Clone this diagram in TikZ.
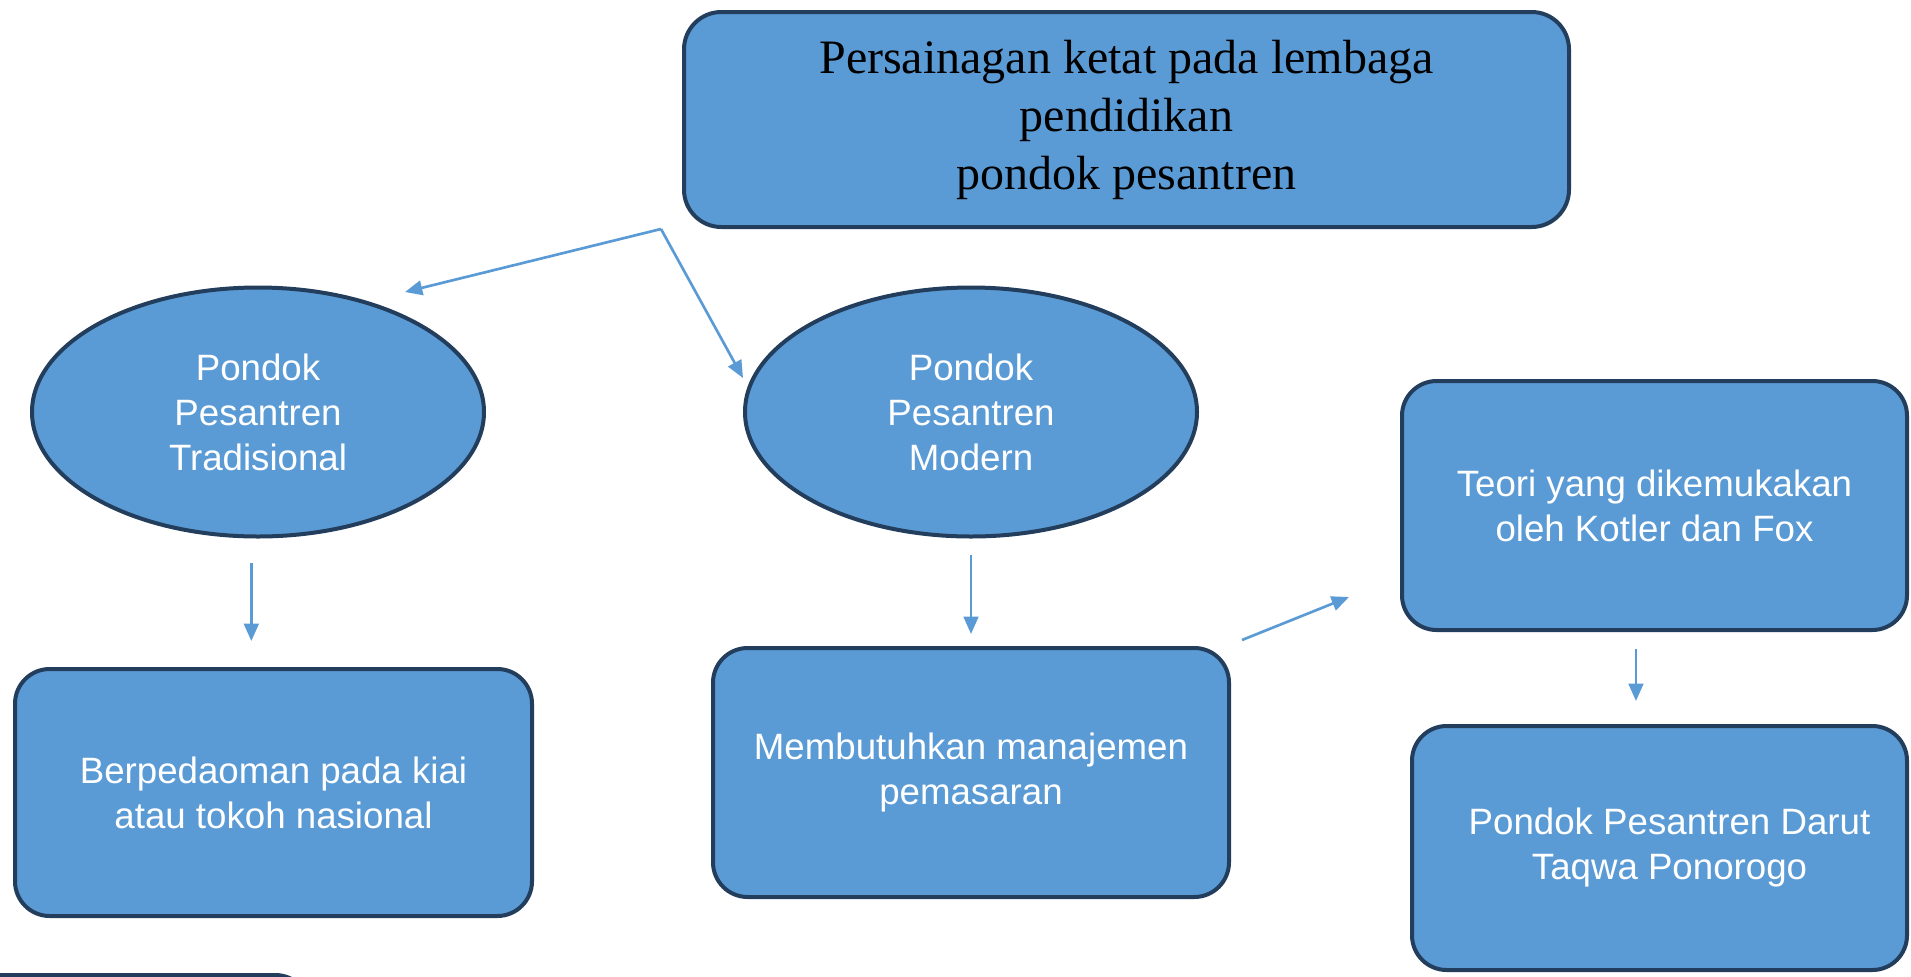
\documentclass[tikz,border=0pt]{standalone}
\usepackage{fontspec}
\setmainfont{Liberation Sans}
\newfontfamily\titleserif{Liberation Serif}
\usetikzlibrary{arrows.meta,shapes.geometric}

\definecolor{boxblue}{RGB}{91,155,213}
\definecolor{boxline}{RGB}{35,62,92}

\tikzset{every picture/.style={line width=0.75pt}}
\tikzset{
  blockbox/.style={draw=boxline, fill=boxblue, line width=3pt, rounded corners=26pt,
    inner sep=0pt, text=white, align=center, font=\fontsize{27.5}{33.75}\selectfont},
  ovalbox/.style={ellipse, draw=boxline, fill=boxblue, line width=3pt,
    inner sep=0pt, text=white, align=center, font=\fontsize{27.5}{33.75}\selectfont},
  flowarrow/.style={draw=boxblue, line width=2pt, -{Triangle[length=13pt,width=11pt]}}
}

\begin{document}
\begin{tikzpicture}[x=0.75pt,y=0.75pt,yscale=-1,xscale=1]
\useasboundingbox (0,0) rectangle (1911,976);

%Shape: top box [id:persaingan]
\node [blockbox, rounded corners=28pt, minimum width=663.75pt, minimum height=161.25pt,
  text=black, font=\titleserif\fontsize{36}{43.5}\selectfont] (persaingan) at (1126.5,119.5)
  {Persainagan ketat pada lembaga\\pendidikan\\pondok pesantren};

%Shape: Ellipse [id:tradisional]
\node [ovalbox, minimum width=339pt, minimum height=186.75pt] (tradisional) at (258,412)
  {Pondok\\Pesantren\\Tradisional};
%Shape: Ellipse [id:modern]
\node [ovalbox, minimum width=339pt, minimum height=186.75pt] (modern) at (971,412)
  {Pondok\\Pesantren\\Modern};

%Shape: Rounded Rect [id:kiai]
\node [blockbox, minimum width=387.75pt, minimum height=185.25pt] (kiai) at (273.5,792.5)
  {Berpedaoman pada kiai\\atau tokoh nasional};
%Shape: Rounded Rect [id:pemasaran]
\node [blockbox, minimum width=387pt, minimum height=186.75pt] (pemasaran) at (971,772.5)
  {Membutuhkan manajemen\\pemasaran};
%Shape: Rounded Rect [id:teori]
\node [blockbox, minimum width=378.75pt, minimum height=186.75pt] (teori) at (1654.5,505.5)
  {Teori yang dikemukakan\\oleh Kotler dan Fox};
%Shape: Rounded Rect [id:darut]
\node [blockbox, minimum width=371.25pt, minimum height=183pt] (darut) at (1659.5,848)
  {\hspace*{15pt}Pondok Pesantren Darut\\\hspace*{15pt}Taqwa Ponorogo};

%Shape: cut box at the bottom edge
\begin{scope}
\clip (0,0) rectangle (1911,976);
\draw [draw=boxline, fill=boxblue, line width=3pt, rounded corners=26pt] (-100,975) rectangle (310,1200);
\end{scope}

%Straight Lines: split from the top box
\coordinate (split) at (661,229);
\coordinate (tradtip) at (405,292);
\coordinate (modtip) at (743,378);
\draw [flowarrow] (split) -- (tradtip);
\draw [flowarrow] (split) -- (modtip);

%Straight Lines: downward
\draw [flowarrow, shorten <=18.4pt, shorten >=19.5pt] ([xshift=-5pt]tradisional.south) -- ([xshift=-5pt]tradisional.south |- kiai.north);
\draw [flowarrow, shorten <=12.4pt, shorten >=9pt] (modern.south) -- (pemasaran.north);
\draw [flowarrow] ([shift={(8.25pt,-4.5pt)}]pemasaran.north east) -- ([shift={(-38.25pt,-26.25pt)}]teori.south west);
\draw [flowarrow, shorten <=12.75pt, shorten >=17.25pt] ([xshift=-13.9pt]teori.south) -- ([xshift=-13.9pt]teori.south |- darut.north);

\end{tikzpicture}
\end{document}
